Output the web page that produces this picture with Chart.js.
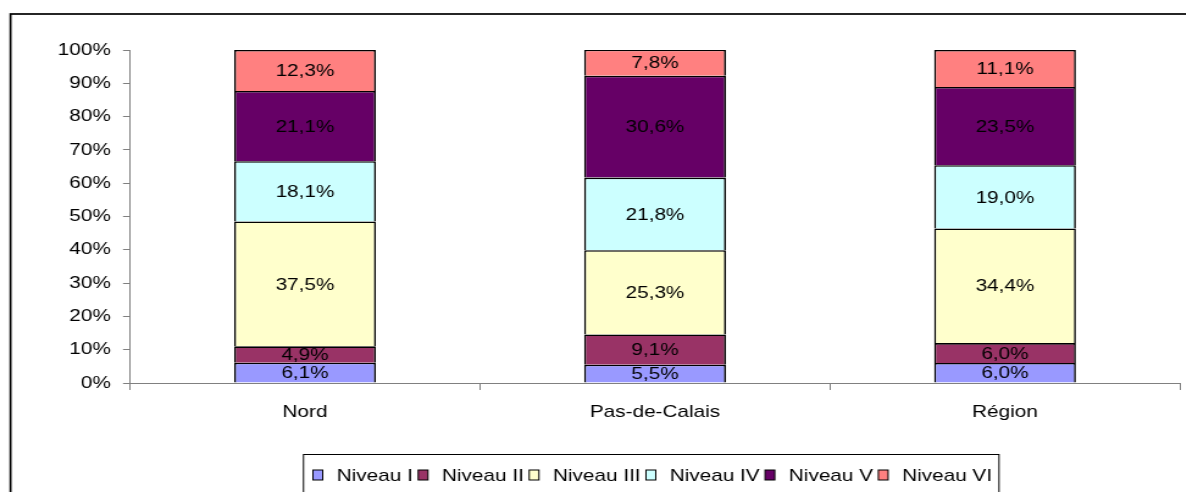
<!DOCTYPE html>
<html>
<head>
<meta charset="utf-8">
<script src="https://cdn.jsdelivr.net/npm/chart.js@4"></script>
<style>
    html, body { margin: 0; padding: 0; background: #fff; overflow: hidden; }
    #wrap { width: 1186px; height: 492px; overflow: hidden; }
    /* le graphique d'origine est étiré horizontalement */
    #chart { transform: scaleX(1.22); transform-origin: 0 0; }
</style>
</head>
<body>
<div id="wrap"><canvas id="chart" width="973" height="492"></canvas></div>
<script>
// catégories et séries (en %)
const categories = ['Nord', 'Pas-de-Calais', 'Région'];
const niveauI   = [6.1, 5.5, 6.0];
const niveauII  = [4.9, 9.1, 6.0];
const niveauIII = [37.5, 25.3, 34.4];
const niveauIV  = [18.1, 21.8, 19.0];
const niveauV   = [21.1, 30.6, 23.5];
const niveauVI  = [12.3, 7.8, 11.1];
const seriesNames = ['Niveau I', 'Niveau II', 'Niveau III', 'Niveau IV', 'Niveau V', 'Niveau VI'];
const seriesColors = ['#9999FF', '#993366', '#FFFFCC', '#CCFFFF', '#660066', '#FF8080'];
const yTicks = [0, 10, 20, 30, 40, 50, 60, 70, 80, 90, 100];

const FONT = 'Arial, "Liberation Sans", sans-serif';
const SX = 1.22; // facteur d'étirement horizontal

function fmtPct(v) {
    return v.toFixed(1).replace('.', ',') + '%';
}

// cadre extérieur
const framePlugin = {
    id: 'frame',
    beforeDraw(chart) {
        const ctx = chart.ctx;
        ctx.save();
        ctx.fillStyle = '#fff';
        ctx.fillRect(0, 0, chart.width, chart.height);
        ctx.strokeStyle = '#000';
        ctx.lineWidth = 1.7;
        ctx.strokeRect(10.5 / SX, 14, 1300, 700);
        ctx.restore();
    }
};

// légende encadrée sous le graphique
const legendPlugin = {
    id: 'boxLegend',
    afterDraw(chart) {
        const ctx = chart.ctx;
        const boxW = 8, boxH = 10, gapText = 11.5, gapItem = 4.4;
        const yMid = 475;
        ctx.save();
        ctx.strokeStyle = '#000';
        ctx.lineWidth = 1;
        ctx.strokeRect(303.5 / SX, 454.5, (999 - 303.5) / SX, 100);

        ctx.font = '17px ' + FONT;
        ctx.textBaseline = 'middle';
        ctx.textAlign = 'left';
        const items = chart.data.datasets.map(ds => ({
            text: ds.label, color: ds.backgroundColor, w: ctx.measureText(ds.label).width
        }));
        const total = items.reduce((s, it) => s + boxW + gapText + it.w, 0) + gapItem * (items.length - 1);
        let x = 652.5 / SX - total / 2;
        items.forEach(it => {
            ctx.fillStyle = it.color;
            ctx.fillRect(x, yMid - boxH / 2, boxW, boxH);
            ctx.strokeStyle = '#000';
            ctx.strokeRect(x, yMid - boxH / 2, boxW, boxH);
            ctx.fillStyle = '#000';
            ctx.fillText(it.text, x + boxW + gapText, yMid + 1);
            x += boxW + gapText + it.w + gapItem;
        });
        ctx.restore();
    }
};

// étiquettes de valeurs au centre des segments
const labelPlugin = {
    id: 'segLabels',
    afterDatasetsDraw(chart) {
        const ctx = chart.ctx;
        ctx.save();
        ctx.font = '17px ' + FONT;
        ctx.fillStyle = '#000';
        ctx.textAlign = 'center';
        ctx.textBaseline = 'middle';
        chart.data.datasets.forEach((ds, i) => {
            const meta = chart.getDatasetMeta(i);
            meta.data.forEach((bar, j) => {
                const y = (bar.y + bar.base) / 2;
                ctx.fillText(fmtPct(ds.data[j]), bar.x, y + 1);
            });
        });
        ctx.restore();
    }
};

const seriesData = [niveauI, niveauII, niveauIII, niveauIV, niveauV, niveauVI];

new Chart(document.getElementById('chart'), {
    type: 'bar',
    data: {
        labels: categories,
        datasets: seriesData.map((d, i) => ({
            label: seriesNames[i],
            data: d,
            backgroundColor: seriesColors[i],
            borderColor: '#000',
            borderWidth: 1.6,
            barPercentage: 0.405,
            categoryPercentage: 1
        }))
    },
    options: {
        responsive: false,
        animation: false,
        devicePixelRatio: 1,
        layout: { padding: { left: 0, right: 973 - 1180 / SX, top: 50, bottom: 0 } },
        plugins: {
            legend: { display: false },
            tooltip: { enabled: false }
        },
        scales: {
            x: {
                stacked: true,
                grid: { drawOnChartArea: false, color: '#808080', tickLength: 7 },
                border: { color: '#808080' },
                ticks: { font: { family: FONT, size: 17 }, color: '#000', padding: 12 },
                afterFit(scale) { scale.height = 492 - 383; }
            },
            y: {
                stacked: true,
                min: 0,
                max: 100,
                grid: { drawOnChartArea: false, color: '#808080', tickLength: 7 / SX },
                border: { color: '#808080' },
                afterBuildTicks(scale) { scale.ticks = yTicks.map(v => ({ value: v })); },
                ticks: {
                    font: { family: FONT, size: 17 },
                    color: '#000',
                    padding: 10,
                    callback: v => v + '%'
                },
                afterFit(scale) { scale.width = 130 / SX; }
            }
        }
    },
    plugins: [framePlugin, labelPlugin, legendPlugin]
});
</script>
</body>
</html>
